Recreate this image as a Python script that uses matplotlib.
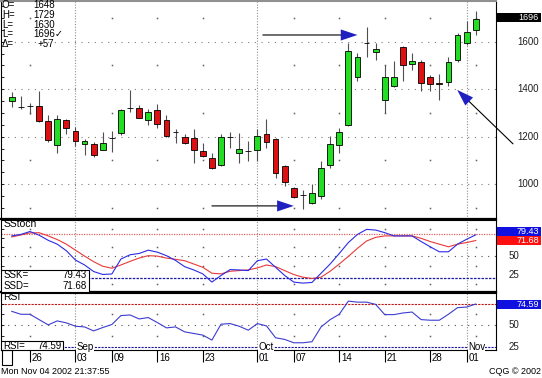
import numpy as np
import matplotlib
matplotlib.use('Agg')
import matplotlib.pyplot as plt
from matplotlib.patches import Rectangle, FancyArrowPatch
from matplotlib.ticker import MultipleLocator

plt.rcParams['font.family'] = ['Liberation Sans', 'DejaVu Sans']

# daily bars, Aug 22 .. Nov 04 2002
opens = [1349, 1324, 1329, 1329, 1266, 1167, 1271, 1224, 1170, 1168,
         1146, 1196, 1217, 1321, 1320, 1269, 1311, 1269, 1219, 1199,
         1194, 1141, 1109, 1080, 1200, 1133, 1141, 1146, 1210, 1189,
         1077, 986, 955, 923, 951, 1081, 1164, 1250, 1453, 1596,
         1555, 1355, 1414, 1576, 1505, 1516, 1450, 1428, 1432, 1523,
         1596, 1648]
highs = [1388, 1372, 1343, 1394, 1290, 1290, 1275, 1240, 1189, 1178,
         1221, 1226, 1316, 1397, 1332, 1317, 1338, 1290, 1231, 1212,
         1233, 1173, 1133, 1213, 1221, 1217, 1184, 1233, 1276, 1194,
         1081, 990, 976, 1000, 1098, 1203, 1236, 1596, 1551, 1663,
         1593, 1501, 1519, 1582, 1554, 1523, 1460, 1464, 1534, 1638,
         1688, 1729]
lows = [1324, 1318, 1295, 1264, 1179, 1133, 1212, 1161, 1125, 1114,
        1144, 1137, 1207, 1306, 1278, 1250, 1238, 1200, 1173, 1171,
        1088, 1116, 1063, 1077, 1154, 1091, 1098, 1099, 1151, 1025,
        993, 941, 896, 917, 937, 1067, 1133, 1245, 1435, 1534,
        1523, 1299, 1411, 1436, 1481, 1393, 1394, 1355, 1414, 1516,
        1586, 1630]
closes = [1366, 1324, 1329, 1268, 1186, 1276, 1236, 1182, 1184, 1122,
          1173, 1196, 1314, 1321, 1280, 1304, 1255, 1205, 1219, 1173,
          1144, 1120, 1067, 1198, 1200, 1147, 1141, 1205, 1177, 1049,
          1011, 948, 955, 965, 1067, 1170, 1219, 1561, 1534, 1596,
          1568, 1450, 1450, 1501, 1519, 1425, 1421, 1422, 1516, 1628,
          1640, 1696]

# slow stochastic %K / %D and RSI
ssk = [78, 80, 84, 79, 72, 66.7, 57.7, 45, 38.3, 29.3,
       25.3, 26, 46.4, 52.2, 54, 58.5, 55.8, 51, 44.5, 36,
       31.5, 26.1, 14.9, 23.9, 32, 31.5, 30.6, 44.1, 46.4, 35.1,
       23.9, 14.9, 13.5, 14.4, 27, 39.6, 54, 68.9, 80, 86.9,
       86, 82.4, 78, 78, 78, 70.3, 63.1, 56.3, 56.3, 66.7,
       73.4, 79.43]
ssd = [76.6, 79.3, 82, 82.4, 78, 73, 66.7, 58.5, 50.4, 42.8,
       36.5, 33.8, 38.3, 43.2, 47.7, 51, 50.4, 47.7, 46, 44.1,
       39.6, 35.1, 27, 26.1, 29.7, 30.6, 31.5, 34.2, 38.3, 36,
       30.6, 25.2, 21.6, 19.8, 21.6, 29.7, 39.6, 50, 61, 71,
       76, 78, 78, 78, 78, 74.7, 70.3, 66.7, 63.1, 66.7,
       68.9, 71.68]
rsi = [66.1, 62.7, 62.7, 56.5, 50.4, 55, 52.7, 48.8, 48, 43.4,
       47.3, 50.8, 61.2, 61.9, 57.3, 58.9, 53.1, 46.9, 48, 42.3,
       40.4, 38.5, 32.7, 51.2, 51.9, 48.8, 44.2, 51.9, 49.2, 35.4,
       33.5, 29.6, 29.6, 30.8, 48, 56.5, 62.7, 78, 76.8, 76.8,
       74.2, 62.3, 62.3, 64.2, 65.3, 56.5, 55.8, 55.8, 62.7, 70.4,
       71.1, 74.59]

# date axis
tick_pos = [2, 7, 11, 16, 21, 27, 31, 36, 41, 46, 50]
tick_lbl = ['26', '03', '09', '16', '23', '01', '07', '14', '21', '28', '01']
month_pos = [7, 27, 50]
month_lbl = ['Sep', 'Oct', 'Nov']
week_dots = [2, 11, 16, 21, 31, 36, 41, 46, 51]
price_lbl = [1600, 1400, 1200, 1000]

# hand drawn arrows (bar index, price)
arrow_from = [(27.6, 1628), (22.0, 909), (55.1, 1170)]
arrow_to = [(38.0, 1628), (31.0, 909), (48.96, 1397)]

info_keys = ['O=', 'H=', 'L=', 'L=', '\u0394=']
info_vals = ['1648', '1729', '1630', '1696\u2713', '+57']

W, H = 542, 378


def frame(l, t, r, b):
    return [l / W, 1 - b / H, (r - l) / W, (b - t) / H]


fig = plt.figure(figsize=(W / 100, H / 100), dpi=100)
ax = fig.add_axes(frame(0.5, 1, 496, 218.5))
ax2 = fig.add_axes(frame(0.5, 219.5, 496, 292))
ax3 = fig.add_axes(frame(0.5, 292.5, 496, 350))

x = np.arange(len(opens))
o = np.array(opens)
c = np.array(closes)

ax.set_ylim(856, 1771)
ax2.set_ylim(1.35, 100.4)
ax3.set_ylim(21.2, 88.0)

dot_ls = (0, (1, 5))
for a in (ax, ax2, ax3):
    a.set_xlim(-1.24, 53.23)
    for m in month_pos:
        a.axvline(m, color='#909090', lw=0.8, ls=(0, (1, 1.5)), zorder=1)
    for s in a.spines.values():
        s.set_color('black')
        s.set_linewidth(0.8)
    a.tick_params(axis='y', direction='in', length=2.5, width=0.6,
                  labelleft=False, left=True, right=False)

# ---- price panel
for v in price_lbl:
    ax.axhline(v, color='#808080', lw=0.8, ls=dot_ls, zorder=1)
lv = [900, 1100, 1300, 1500, 1700]
ax.plot(np.repeat(week_dots, len(lv)), np.tile(lv, len(week_dots)), ls='none',
        marker='s', ms=1.1, mew=0, color='#606060', zorder=1)

cols = np.where(c > o, '#22dd22', np.where(c < o, '#dd1111', 'black'))
ax.vlines(x, lows, highs, color='#505050', lw=0.8, zorder=2)
ax.bar(x, np.abs(c - o), bottom=np.minimum(o, c), width=0.64, color=cols,
       edgecolor='black', linewidth=0.6, zorder=3)

for (tx, ty), (hx, hy) in zip(arrow_from, arrow_to):
    ax.add_patch(FancyArrowPatch((tx, ty), (hx, hy), arrowstyle='-', color='black',
                                 lw=0.8, shrinkA=0, shrinkB=8, clip_on=False, zorder=4))
    ax.add_patch(FancyArrowPatch((tx, ty), (hx, hy),
                                 arrowstyle='-|>,head_length=12,head_width=4',
                                 mutation_scale=1, facecolor='#2020c0', edgecolor='none',
                                 lw=0, shrinkA=0, shrinkB=0, clip_on=False, zorder=5))

ax.yaxis.set_major_locator(MultipleLocator(50))
ax.set_xticks([])
ax.spines['top'].set_color('#909090')
ax.spines['top'].set_linewidth(1.5)
ax.spines['bottom'].set_linewidth(1.6)

for k, (key, val) in enumerate(zip(info_keys, info_vals)):
    yy = 1 - (5 + 9.75 * k) / H
    fig.text(2 / W, yy, key, va='center', fontsize=7)
    fig.text((37.5 if key.startswith('\u0394') else 33) / W, yy, val, va='center', fontsize=7)

# ---- stochastic panel
ax2.axhline(80, color='#e06060', lw=0.9, ls=(0, (1, 1)), zorder=1)
ax2.axhline(20, color='#1a1aa0', lw=0.9, ls=(0, (2, 1)), zorder=1)
ax2.axhline(50, color='#505050', lw=0.8, ls=dot_ls, zorder=1)
lv2 = [12.5, 37.5, 62.5, 87.5]
ax2.plot(np.repeat(week_dots, len(lv2)), np.tile(lv2, len(week_dots)), ls='none',
         marker='s', ms=1.1, mew=0, color='#606060', zorder=1)
ax2.plot(x, ssd, color='#e83a3a', lw=0.8, zorder=3)
ax2.plot(x, ssk, color='#2b2be6', lw=0.8, zorder=3)
ax2.yaxis.set_major_locator(MultipleLocator(12.5))
ax2.set_xticks([])
ax2.spines['bottom'].set_linewidth(1.6)
ax2.text(0.006, 0.934, 'SStoch', transform=ax2.transAxes, va='center', fontsize=7.5)
ax2.add_patch(Rectangle((0, 0), 0.1776, 0.3076, transform=ax2.transAxes,
                        fc='white', ec='black', lw=0.8, zorder=6))
ax2.text(0.006, 0.23, 'SSK=', transform=ax2.transAxes, va='center', fontsize=7, zorder=7)
ax2.text(0.1736, 0.23, '%.2f' % ssk[-1], transform=ax2.transAxes, va='center',
         ha='right', fontsize=7, zorder=7)
ax2.text(0.006, 0.079, 'SSD=', transform=ax2.transAxes, va='center', fontsize=7, zorder=7)
ax2.text(0.1736, 0.079, '%.2f' % ssd[-1], transform=ax2.transAxes, va='center',
         ha='right', fontsize=7, zorder=7)

# ---- RSI panel
ax3.axhline(75, color='#c01818', lw=0.8, ls=(0, (2, 1)), zorder=1)
ax3.axhline(25, color='#1a1aa0', lw=0.8, ls=(0, (2, 1)), zorder=1)
ax3.axhline(50, color='#505050', lw=0.8, ls=dot_ls, zorder=1)
lv3 = [37.5, 62.5]
ax3.plot(np.repeat(week_dots, len(lv3)), np.tile(lv3, len(week_dots)), ls='none',
         marker='s', ms=1.1, mew=0, color='#606060', zorder=1)
ax3.plot(x, rsi, color='#3c3cd0', lw=0.8, zorder=3)
ax3.yaxis.set_major_locator(MultipleLocator(12.5))
ax3.text(0.006, 0.917, 'RSI', transform=ax3.transAxes, va='center', fontsize=7.5)
ax3.add_patch(Rectangle((0, 0), 0.127, 0.162, transform=ax3.transAxes,
                        fc='white', ec='black', lw=0.8, zorder=6))
ax3.text(0.006, 0.078, 'RSI=', transform=ax3.transAxes, va='center', fontsize=7, zorder=7)
ax3.text(0.124, 0.078, '%.2f' % rsi[-1], transform=ax3.transAxes, va='center',
         ha='right', fontsize=7, zorder=7)
for m, lbl in zip(month_pos, month_lbl):
    ax3.text(m + 0.15, 25, lbl, va='center', ha='left', fontsize=7, zorder=5,
             bbox=dict(fc='white', ec='none', pad=0.3))

ax3.set_xticks(tick_pos)
ax3.tick_params(axis='x', direction='out', length=8.5, width=0.8, labelbottom=False)
xt = ax3.get_xaxis_transform()
for p, lbl in zip(tick_pos, tick_lbl):
    ax3.text(p + 0.18, -0.134, lbl, transform=xt, va='center', ha='left',
             fontsize=7, clip_on=False)

# ---- right hand scale labels and last value tags
for v in price_lbl:
    ax.text(1.0424, v, str(v), transform=ax.get_yaxis_transform(), va='center',
            fontsize=7, color='#202020', clip_on=False)
for a in (ax2, ax3):
    for v in (50, 25):
        a.text(1.026, v, str(v), transform=a.get_yaxis_transform(), va='center',
               fontsize=7, color='#202020', clip_on=False)


def tag(a, val, txt, fc, shift=0.0):
    # shift: pixels upwards, to keep stacked tags readable
    y0, y1 = a.get_ylim()
    per_px = (y1 - y0) / a.bbox.height
    h = 9 * per_px
    yc = val + shift * per_px
    tr = a.get_yaxis_transform()
    a.add_patch(Rectangle((1.002, yc - h / 2), 0.0888, h, transform=tr, fc=fc,
                          ec='none', clip_on=False, zorder=8))
    a.text(1.0868, yc, txt, transform=tr, ha='right', va='center', color='white',
           fontsize=6.5, clip_on=False, zorder=9)


tag(ax, closes[-1], str(closes[-1]), 'black', shift=1.5)
tag(ax2, ssk[-1], '%.2f' % ssk[-1], '#1010e0', shift=3.0)
tag(ax2, ssd[-1], '%.2f' % ssd[-1], '#ff1010')
tag(ax3, rsi[-1], '%.2f' % rsi[-1], '#1010e0')

# ---- footer
fig.add_artist(Rectangle((1.7 / W, 1 - 365 / H), 10 / W, 15 / H, transform=fig.transFigure,
                         fill=False, ec='black', lw=0.8))
fig.text(1 / W, 1 - 371.7 / H, 'Mon Nov 04 2002 21:37:55', va='center', fontsize=6.5)
fig.text(541 / W, 1 - 371.7 / H, 'CQG \u00a9 2002', ha='right', va='center', fontsize=6.5)

fig.savefig('out.png', dpi=100, facecolor='white')
